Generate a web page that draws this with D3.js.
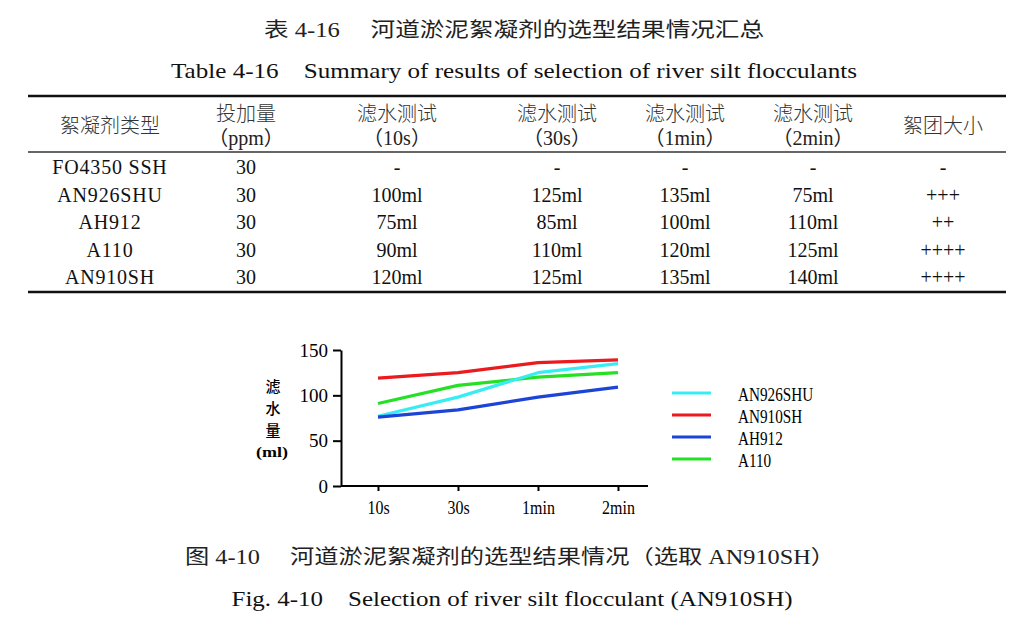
<!DOCTYPE html>
<html><head><meta charset="utf-8">
<script src="https://cdn.jsdelivr.net/npm/d3@7"></script>
<style>
html,body{margin:0;padding:0;background:#fff;}
svg{display:block;}
</style></head>
<body>
<svg id="c" width="1024" height="625"></svg>
<script>
// ---------- data ----------
const tableTitleCn = "表 4-16\u3000 河道淤泥絮凝剂的选型结果情况汇总";
const tableTitleEn = "Table 4-16\u00a0\u00a0\u00a0\u00a0Summary of results of selection of river silt flocculants";
const figTitleCn = "图 4-10\u3000 河道淤泥絮凝剂的选型结果情况（选取 AN910SH）";
const figTitleEn = "Fig. 4-10\u00a0\u00a0\u00a0\u00a0Selection of river silt flocculant (AN910SH)";

const headerLine1 = ["絮凝剂类型", "投加量", "滤水测试", "滤水测试", "滤水测试", "滤水测试", "絮团大小"];
const headerLine2 = ["", "（ppm）", "（10s）", "（30s）", "（1min）", "（2min）", ""];
const flocculants = ["FO4350 SSH", "AN926SHU", "AH912", "A110", "AN910SH"];
const dosage = ["30", "30", "30", "30", "30"];
const test10s = ["-", "100ml", "75ml", "90ml", "120ml"];
const test30s = ["-", "125ml", "85ml", "110ml", "125ml"];
const test1min = ["-", "135ml", "100ml", "120ml", "135ml"];
const test2min = ["-", "75ml", "110ml", "125ml", "140ml"];
const flocSize = ["-", "+++", "++", "++++", "++++"];

// chart
const timePoints = ["10s", "30s", "1min", "2min"];
const yTicks = [0, 50, 100, 150];
const seriesNames = ["AN926SHU", "AN910SH", "AH912", "A110"];
const seriesColors = ["#38ecf4", "#ea1a1e", "#1c44d6", "#25e025"];
const valAN926SHU = [77, 98, 125, 135];
const valAN910SH = [119, 125, 136, 139];
const valAH912 = [76, 84, 98, 109];
const valA110 = [91, 111, 120, 125];
const yLabelChars = ["滤", "水", "量", "(ml)"];

// ---------- drawing ----------
const svg = d3.select("#c");
const serif = "'Liberation Serif','Times New Roman','Noto Sans CJK SC',serif";
const cjk = "'Noto Sans CJK SC','Liberation Serif',sans-serif";

function fitWidth(sel, w) {
  sel.attr("textLength", w).attr("lengthAdjust", "spacingAndGlyphs");
}
function condense(sel, k) {
  sel.each(function () {
    const n = this.getComputedTextLength();
    d3.select(this).attr("textLength", n * k).attr("lengthAdjust", "spacingAndGlyphs");
  });
}

// titles
const t1 = svg.append("text").attr("x", 514).attr("y", 30).attr("text-anchor", "middle")
  .attr("dominant-baseline", "central").style("font-family", serif).style("font-size", "20px")
  .attr("fill", "#222").text(tableTitleCn);
fitWidth(t1, 500);
const t2 = svg.append("text").attr("x", 514).attr("y", 70).attr("text-anchor", "middle")
  .attr("dominant-baseline", "central").style("font-family", serif).style("font-size", "22px")
  .attr("fill", "#111").text(tableTitleEn);
fitWidth(t2, 686);

// table
const tableX0 = 28, tableX1 = 1006;
const colCenters = d3.scalePoint().domain(d3.range(7)).range([0, 6]);
const colX = [110, 246, 397, 557, 685, 813, 943];
const rowY = d3.scalePoint().domain(d3.range(flocculants.length)).range([167, 277]);

svg.append("line").attr("x1", tableX0).attr("x2", tableX1).attr("y1", 96).attr("y2", 96)
  .attr("stroke", "#111").attr("stroke-width", 2.6);
svg.append("line").attr("x1", tableX0).attr("x2", tableX1).attr("y1", 152).attr("y2", 152)
  .attr("stroke", "#333").attr("stroke-width", 1.4);
svg.append("line").attr("x1", tableX0).attr("x2", tableX1).attr("y1", 292).attr("y2", 292)
  .attr("stroke", "#111").attr("stroke-width", 2.6);

headerLine1.forEach((h, i) => {
  const single = headerLine2[i] === "";
  svg.append("text").attr("x", colX[i]).attr("y", single ? 124 : 112)
    .attr("text-anchor", "middle").attr("dominant-baseline", "central")
    .style("font-family", cjk).style("font-size", "20px").style("font-weight", 300)
    .attr("fill", "#333").text(h);
  if (!single) {
    svg.append("text").attr("x", colX[i]).attr("y", 138)
      .attr("text-anchor", "middle").attr("dominant-baseline", "central")
      .style("font-family", serif).style("font-size", "20px")
      .attr("fill", "#222").text(headerLine2[i]);
  }
});

const columns = [flocculants, dosage, test10s, test30s, test1min, test2min, flocSize];
columns.forEach((col, ci) => {
  svg.selectAll(null).data(col).enter().append("text")
    .attr("x", colX[ci]).attr("y", (d, ri) => rowY(ri))
    .attr("text-anchor", "middle").attr("dominant-baseline", "central")
    .style("font-family", serif).style("font-size", "20px")
    .style("letter-spacing", ci === 0 ? "0.8px" : "0px")
    .attr("fill", "#111").text(d => d);
});

// chart
const x = d3.scalePoint().domain(timePoints).range([378, 618]);
const y = d3.scaleLinear().domain([0, 150]).range([486, 350]);
const axisX0 = 341, axisX1 = 648;

const gY = svg.append("g").attr("transform", `translate(${axisX0},0)`)
  .call(d3.axisLeft(y).tickValues(yTicks).tickSize(8).tickSizeOuter(0).tickPadding(5));
gY.select(".domain").attr("stroke", "#000").attr("stroke-width", 2);
gY.selectAll(".tick line").attr("stroke", "#000").attr("stroke-width", 2);
gY.selectAll(".tick text").style("font-family", serif).style("font-size", "19px").attr("fill", "#000");

const gX = svg.append("g").attr("transform", `translate(0,${y(0)})`)
  .call(d3.axisBottom(x).tickSize(5).tickSizeOuter(0).tickPadding(10));
gX.select(".domain").attr("d", `M${axisX0},0H${axisX1}`).attr("stroke", "#000").attr("stroke-width", 2);
gX.selectAll(".tick line").attr("stroke", "#000").attr("stroke-width", 2);
gX.selectAll(".tick text").style("font-family", serif).style("font-size", "19px").attr("fill", "#000");
condense(gX.selectAll(".tick text"), 0.84);

const allSeries = [valAN926SHU, valAN910SH, valAH912, valA110];
const drawOrder = [1, 3, 0, 2];
const line = d3.line().x((d, i) => x(timePoints[i])).y(d => y(d));
drawOrder.forEach(si => {
  svg.append("path").datum(allSeries[si]).attr("d", line)
    .attr("fill", "none").attr("stroke", seriesColors[si]).attr("stroke-width", 3.2)
    .attr("stroke-linecap", "butt").attr("stroke-linejoin", "round");
});

// y label
const yl = d3.scalePoint().domain(d3.range(yLabelChars.length)).range([385, 452]);
yLabelChars.forEach((c, i) => {
  const tt = svg.append("text").attr("x", i === 3 ? 272 : 273).attr("y", yl(i))
    .attr("text-anchor", "middle").attr("dominant-baseline", "central")
    .style("font-family", i === 3 ? serif : cjk).style("font-size", i === 3 ? "15px" : "15px")
    .style("font-weight", i === 3 ? 700 : 500)
    .attr("fill", "#000").text(c);
  if (i === 3) fitWidth(tt, 32);
});

// legend
const ly = d3.scalePoint().domain(seriesNames).range([393, 459]);
seriesNames.forEach((n, i) => {
  svg.append("line").attr("x1", 672).attr("x2", 711).attr("y1", ly(n)).attr("y2", ly(n))
    .attr("stroke", seriesColors[i]).attr("stroke-width", 3.2);
  const lt = svg.append("text").attr("x", 738).attr("y", ly(n) + 1).attr("dominant-baseline", "central")
    .style("font-family", serif).style("font-size", "19px").attr("fill", "#000").text(n);
  condense(lt, 0.8);
});

// figure captions
const c1 = svg.append("text").attr("x", 510).attr("y", 557).attr("text-anchor", "middle")
  .attr("dominant-baseline", "central").style("font-family", serif).style("font-size", "20px")
  .attr("fill", "#222").text(figTitleCn);
fitWidth(c1, 650);
const c2 = svg.append("text").attr("x", 512).attr("y", 598).attr("text-anchor", "middle")
  .attr("dominant-baseline", "central").style("font-family", serif).style("font-size", "22px")
  .attr("fill", "#111").text(figTitleEn);
fitWidth(c2, 561);
</script>
</body></html>
